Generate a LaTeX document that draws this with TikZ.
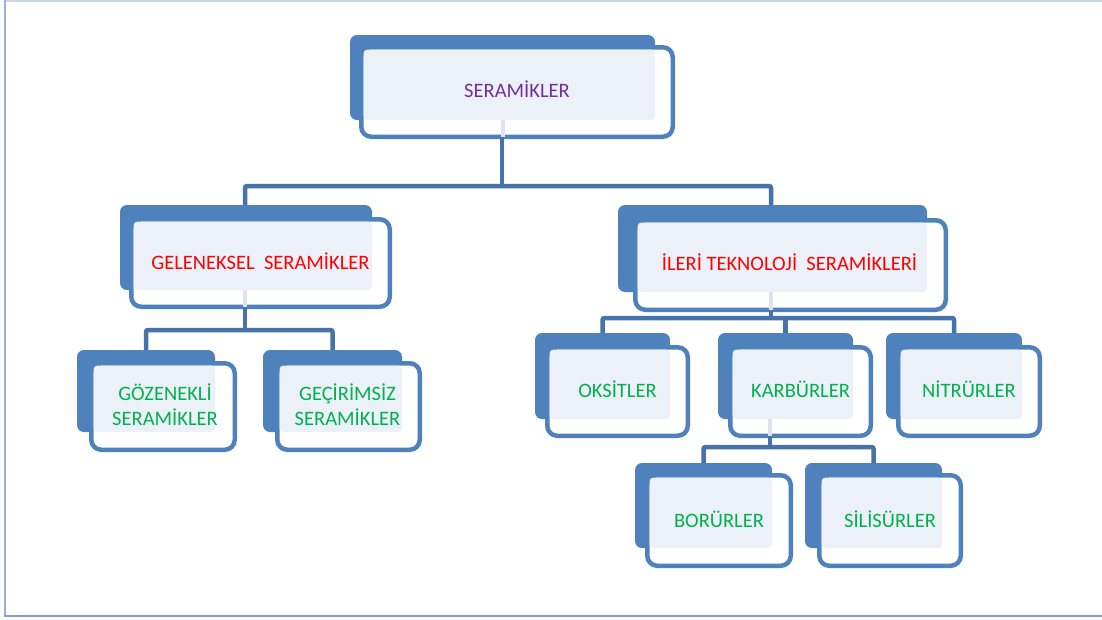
\documentclass[tikz,border=0pt]{standalone}
\usepackage{fontspec}
\setmainfont{Carlito}
\usetikzlibrary{fit}
\definecolor{bl}{HTML}{4F81BD}
\definecolor{lt}{HTML}{ECF1F8}
\definecolor{cn}{HTML}{4673AB}
\definecolor{fnt}{HTML}{DDE4F0}
\definecolor{grn}{HTML}{00B050}
\definecolor{rd}{HTML}{FF0000}
\definecolor{pur}{HTML}{7030A0}
\definecolor{frameL}{HTML}{9AB1D8}
\definecolor{frameT}{HTML}{C8D5EA}
\definecolor{frameB}{HTML}{7F9FCF}
\tikzset{
  backbox/.style={fill=bl, draw=none, rounded corners=7pt, inner sep=0pt, outer sep=0pt},
  frontbox/.style={fill=white, draw=bl, line width=4.5pt, rounded corners=10pt, inner sep=0pt, outer sep=0pt},
  lightbox/.style={fill=lt, draw=none, rounded corners=4pt, inner sep=0pt, outer sep=0pt},
  lbl/.style={font=\fontsize{20.5}{25}\selectfont, align=center, inner sep=0pt},
  conn/.style={draw=cn, line width=4.5pt},
  faint/.style={draw=fnt, line width=4pt},
}
\newcommand{\cbox}[9]{%
  % #1 name, #2-#5 back x1 y1 x2 y2, #6-#9 front outer x1 y1 x2 y2
  \node[backbox, fit={(#2,#3) (#4,#5)}] (#1B) {};
  \node[frontbox, fit={(#6+2.25,#7+2.25) (#8-2.25,#9-2.25)}] (#1F) {};
  \node[lightbox, fit={(#6+4.5,#7+4.5) (#4,#5)}] (#1L) {};
}
\begin{document}
\begin{tikzpicture}[x=1pt,y=-1pt]
\useasboundingbox (0,0) rectangle (1102,619);
\fill[white] (0,0) rectangle (1102,619);
% frame
\draw[frameT, line width=1.5pt] (5,0.75) -- (1102,0.75);
\draw[frameL, line width=2pt] (5,0) -- (5,616);
\draw[frameB, line width=2pt] (4,616) -- (1102,616);

% boxes
\cbox{ser}{350}{35}{655}{120}{359}{45}{675}{139}
\cbox{gel}{120}{205}{372}{290}{129}{217}{392}{309}
\cbox{ile}{618}{205}{927}{292}{633}{218}{948}{312}
\cbox{goz}{77}{350}{215}{432}{89}{361}{237}{452}
\cbox{gec}{263}{350}{402}{432}{275}{361}{422}{452}
\cbox{oks}{535}{333}{670}{419}{545}{345}{690}{438}
\cbox{kar}{718}{333}{853}{419}{728}{345}{873}{438}
\cbox{nit}{886}{333}{1022}{419}{896}{345}{1042}{438}
\cbox{bor}{635}{463}{772}{548}{645}{473}{793}{568}
\cbox{sil}{805}{463}{942}{548}{817}{473}{963}{568}

% labels
\node[lbl, text=pur] (ser) at ([yshift=3pt]serF.center) {SERAMİKLER};
\node[lbl, text=rd] (gel) at ([yshift=2pt]gelF.center) {GELENEKSEL\ \ SERAMİKLER};
\node[lbl, text=rd] (ile) at ([xshift=-1pt,yshift=3pt]ileF.center) {İLERİ TEKNOLOJİ\ \ SERAMİKLERİ};
\node[lbl, text=grn] (goz) at ([xshift=2pt,yshift=2pt]gozF.center) {GÖZENEKLİ\\SERAMİKLER};
\node[lbl, text=grn] (gec) at ([xshift=-1pt,yshift=2pt]gecF.center) {GEÇİRİMSİZ\\SERAMİKLER};
\node[lbl, text=grn] (oks) at ([yshift=2pt]oksF.center) {OKSİTLER};
\node[lbl, text=grn] (kar) at ([yshift=2pt]karF.center) {KARBÜRLER};
\node[lbl, text=grn] (nit) at ([yshift=2pt]nitF.center) {NİTRÜRLER};
\node[lbl, text=grn] (bor) at ([yshift=1pt]borF.center) {BORÜRLER};
\node[lbl, text=grn] (sil) at ([yshift=1pt]silF.center) {SİLİSÜRLER};

% connector anchor points
\coordinate (bar1) at (502,186);
\coordinate (bar2) at (771,318);
\coordinate (bar3) at (245,330);
\coordinate (bar4) at (770,447);

% faint stems seen through the front boxes
\draw[faint] (serB.south) -- (serB.south |- serF.south);
\draw[faint] (gelB.south -| bar3) -- (gelF.south -| bar3);
\draw[faint] (ileB.south -| bar2) -- (ileF.south -| bar2);
\draw[faint] (karB.south -| bar4) -- (karF.south -| bar4);

% level 1
\draw[conn] (serF.south -| bar1) -- (bar1);
\draw[conn, rounded corners=2pt] (gelB.north -| bar3) |- (bar1) -| (ileB.north -| bar2);
% level 2 left
\draw[conn] (gelF.south -| bar3) -- (bar3);
\draw[conn, rounded corners=2pt] (gozB.north) |- (bar3) -| (gecB.north);
% level 2 right
\draw[conn] (ileF.south -| bar2) -- (bar2);
\draw[conn, rounded corners=2pt] (oksB.north) |- (bar2) -| (nitB.north);
\draw[conn] (karB.north) -- (karB.north |- bar2);
% level 3
\draw[conn] (karF.south -| bar4) -- (bar4);
\draw[conn, rounded corners=2pt] (borB.north) |- (bar4) -| (silB.north);
\end{tikzpicture}
\end{document}
